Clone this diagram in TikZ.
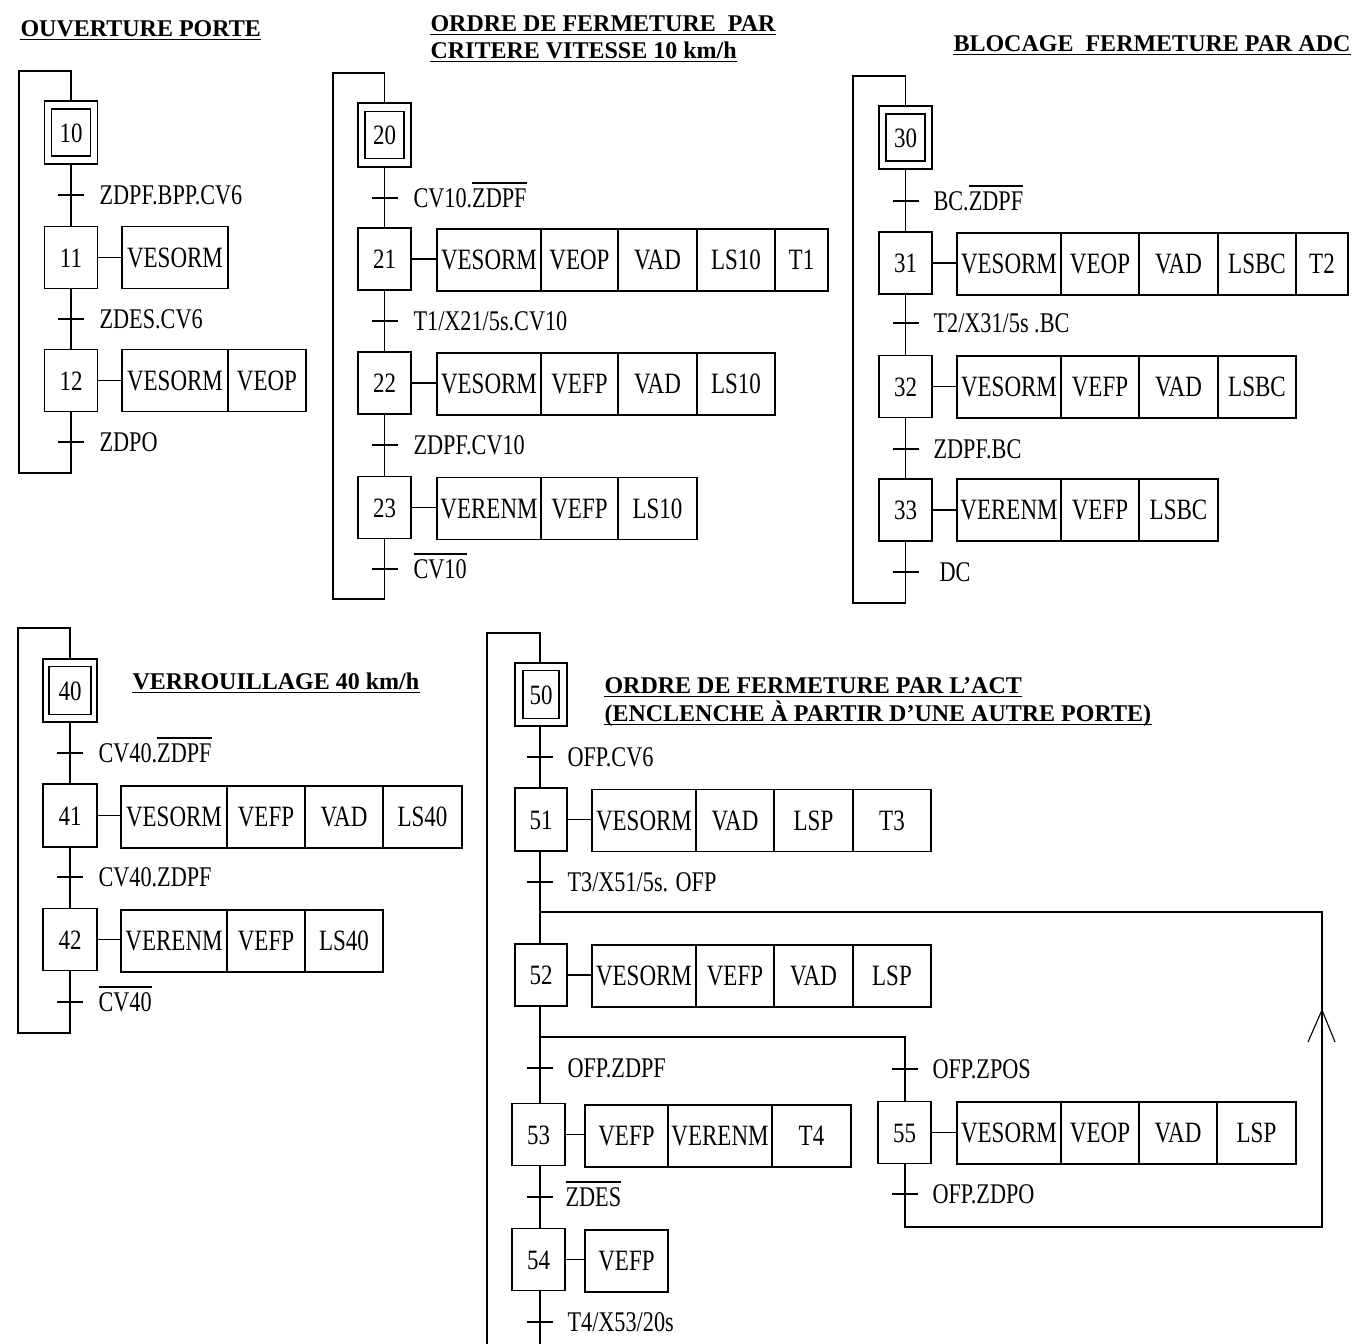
\documentclass[tikz,border=0pt]{standalone}
\usepackage{fontspec}
\setmainfont{Liberation Serif}
\newfontfamily\condf[FakeStretch=0.78]{Liberation Serif}
\newfontfamily\stepf[FakeStretch=0.82]{Liberation Serif}
\newcommand\lblfont{\condf\fontsize{28.5}{30}\selectfont}
\newcommand\actfont{\condf\fontsize{29.5}{31}\selectfont}
\newcommand\stepfont{\stepf\fontsize{28}{30}\selectfont}
\newcommand\ttlfont{\bfseries\fontsize{24}{26}\selectfont}
\newcommand\ovl[1]{\setbox0\hbox{#1}\rlap{\rule[\dimexpr19pt+5pt\relax]{\wd0}{1.2pt}}\box0}
\newcommand\act[5]{\node[act, minimum width={#3-#2}] (#1) at ({(#2+#3)/2},#4) {#5};}
\newcommand\trans[5]{\coordinate (#1) at (#2,#3);
  \draw ([xshift=-13pt]#1) -- ([xshift=13pt]#1);
  \node[lbl] (#1l) at (#4,#3) {#5};}
\tikzset{
  stepbox/.style={draw, minimum width=53pt, minimum height=62pt, inner sep=0pt, font=\stepfont, text height=19pt, text depth=0pt},
  initout/.style={draw, minimum width=53pt, minimum height=63pt, inner sep=0pt},
  initin/.style={stepbox, minimum width=39pt, minimum height=47pt},
  act/.style={draw, minimum height=62pt, inner sep=0pt, font=\actfont, text height=19.5pt, text depth=0pt},
  lbl/.style={anchor=west, inner sep=0pt, font=\lblfont, text height=19pt, text depth=0pt},
  ttl/.style={anchor=west, inner sep=0pt, font=\ttlfont, text height=16pt, text depth=0pt},
  uline/.style={line width=1.5pt}
}
\begin{document}
\begin{tikzpicture}[x=1pt, y=-1pt, line width=1.1pt]
\path[use as bounding box] (0,0) rectangle (1355,1344);

% ---------------- Titles
\node[ttl] (T1) at (20,28) {OUVERTURE PORTE};
\node[ttl] (T2a) at (430,23) {ORDRE DE FERMETURE~ PAR};
\node[ttl] (T2b) at (430,50) {CRITERE VITESSE 10 km/h};
\node[ttl] (T3) at (953,43) {BLOCAGE~ FERMETURE PAR ADC};
\node[ttl] (T4) at (132,681) {VERROUILLAGE 40 km/h};
\node[ttl] (T5a) at (604,685) {ORDRE DE FERMETURE PAR L’ACT};
\node[ttl] (T5b) at (604,713) {(ENCLENCHE À PARTIR D’UNE AUTRE PORTE)};
\foreach \t in {T1,T2a,T2b,T3,T4,T5a,T5b}
  \draw[uline] ([yshift=-3pt]\t.south west) -- ([yshift=-3pt]\t.south east);

% ---------------- Grafcet 1
\node[initout] (s10) at (71,132.5) {};
\node[initin] (s10i) at (s10) {10};
\trans{t10}{71}{195}{99}{ZDPF.BPP.CV6}
\node[stepbox] (s11) at (71,257.5) {11};
\act{a11a}{122}{228}{257.5}{VESORM}
\trans{t11}{71}{319}{99}{ZDES.CV6}
\node[stepbox] (s12) at (71,380.5) {12};
\act{a12a}{122}{228}{380.5}{VESORM}
\act{a12b}{228}{306}{380.5}{VEOP}
\trans{t12}{71}{442}{99}{ZDPO}
\coordinate (c1a) at (71,473); \coordinate (c1b) at (19,473);
\coordinate (c1c) at (19,71); \coordinate (c1d) at (71,71);
\draw (s10.south) -- (s11.north) (s11.south) -- (s12.north);
\draw (s11.east) -- (a11a.west) (s12.east) -- (a12a.west);
\draw (s12.south) -- (c1a) -- (c1b) -- (c1c) -- (c1d) -- (s10.north);

% ---------------- Grafcet 2
\node[initout, minimum height=64pt] (s20) at (384.5,135) {};
\node[initin] (s20i) at (s20) {20};
\trans{t20}{384.5}{198}{413}{CV10.\ovl{ZDPF}}
\node[stepbox] (s21) at (384.5,259) {21};
\act{a21a}{437}{541}{260}{VESORM}
\act{a21b}{541}{618}{260}{VEOP}
\act{a21c}{618}{697}{260}{VAD}
\act{a21d}{697}{775}{260}{LS10}
\act{a21e}{775}{828}{260}{T1}
\trans{t21}{384.5}{321}{413}{T1/X21/5s.CV10}
\node[stepbox] (s22) at (384.5,383) {22};
\act{a22a}{437}{541}{384}{VESORM}
\act{a22b}{541}{618}{384}{VEFP}
\act{a22c}{618}{697}{384}{VAD}
\act{a22d}{697}{775}{384}{LS10}
\trans{t22}{384.5}{445}{413}{ZDPF.CV10}
\node[stepbox] (s23) at (384.5,507.5) {23};
\act{a23a}{437}{541}{508.5}{VERENM}
\act{a23b}{541}{618}{508.5}{VEFP}
\act{a23c}{618}{697}{508.5}{LS10}
\trans{t23}{384.5}{569}{413}{\ovl{CV10}}
\coordinate (c2a) at (384.5,599); \coordinate (c2b) at (333,599);
\coordinate (c2c) at (333,73); \coordinate (c2d) at (384.5,73);
\draw (s20.south) -- (s21.north) (s21.south) -- (s22.north) (s22.south) -- (s23.north);
\draw (s21.east) -- (s21.east -| a21a.west) (s22.east) -- (s22.east -| a22a.west) (s23.east) -- (s23.east -| a23a.west);
\draw (s23.south) -- (c2a) -- (c2b) -- (c2c) -- (c2d) -- (s20.north);

% ---------------- Grafcet 3
\node[initout] (s30) at (905.5,137.5) {};
\node[initin] (s30i) at (s30) {30};
\trans{t30}{905.5}{201}{933}{BC.\ovl{ZDPF}}
\node[stepbox] (s31) at (905.5,263) {31};
\act{a31a}{957}{1061}{264}{VESORM}
\act{a31b}{1061}{1139}{264}{VEOP}
\act{a31c}{1139}{1218}{264}{VAD}
\act{a31d}{1218}{1296}{264}{LSBC}
\act{a31e}{1296}{1348}{264}{T2}
\trans{t31}{905.5}{323}{933}{T2/X31/5s .BC}
\node[stepbox] (s32) at (905.5,386.5) {32};
\act{a32a}{957}{1061}{387}{VESORM}
\act{a32b}{1061}{1139}{387}{VEFP}
\act{a32c}{1139}{1218}{387}{VAD}
\act{a32d}{1218}{1296}{387}{LSBC}
\trans{t32}{905.5}{449}{933}{ZDPF.BC}
\node[stepbox] (s33) at (905.5,510) {33};
\act{a33a}{957}{1061}{510}{VERENM}
\act{a33b}{1061}{1139}{510}{VEFP}
\act{a33c}{1139}{1218}{510}{LSBC}
\trans{t33}{905.5}{572}{939}{DC}
\coordinate (c3a) at (905.5,603); \coordinate (c3b) at (853,603);
\coordinate (c3c) at (853,76); \coordinate (c3d) at (905.5,76);
\draw (s30.south) -- (s31.north) (s31.south) -- (s32.north) (s32.south) -- (s33.north);
\draw (s31.east) -- (s31.east -| a31a.west) (s32.east) -- (s32.east -| a32a.west) (s33.east) -- (s33.east -| a33a.west);
\draw (s33.south) -- (c3a) -- (c3b) -- (c3c) -- (c3d) -- (s30.north);

% ---------------- Grafcet 4
\node[initout, minimum width=54pt] (s40) at (70,690.5) {};
\node[initin, minimum width=42pt, minimum height=48pt] (s40i) at (s40) {40};
\trans{t40}{70}{753}{98}{CV40.\ovl{ZDPF}}
\node[stepbox, minimum width=54pt, minimum height=63pt] (s41) at (70,815.5) {41};
\act{a41a}{121}{227}{817}{VESORM}
\act{a41b}{227}{305}{817}{VEFP}
\act{a41c}{305}{383}{817}{VAD}
\act{a41d}{383}{462}{817}{LS40}
\trans{t41}{70}{877}{98}{CV40.ZDPF}
\node[stepbox, minimum width=54pt] (s42) at (70,939.5) {42};
\act{a42a}{121}{227}{941}{VERENM}
\act{a42b}{227}{305}{941}{VEFP}
\act{a42c}{305}{383}{941}{LS40}
\trans{t42}{70}{1002}{98}{\ovl{CV40}}
\coordinate (c4a) at (70,1033); \coordinate (c4b) at (18,1033);
\coordinate (c4c) at (18,628); \coordinate (c4d) at (70,628);
\draw (s40.south) -- (s41.north) (s41.south) -- (s42.north);
\draw (s41.east) -- (s41.east -| a41a.west) (s42.east) -- (s42.east -| a42a.west);
\draw (s42.south) -- (c4a) -- (c4b) -- (c4c) -- (c4d) -- (s40.north);

% ---------------- Grafcet 5
\node[initout, minimum width=52pt] (s50) at (541,694.5) {};
\node[initin, minimum width=36pt, minimum height=48pt] (s50i) at (s50) {50};
\trans{t50}{540}{757}{567}{OFP.CV6}
\node[stepbox, minimum width=52pt, minimum height=63pt] (s51) at (541,819.5) {51};
\act{a51a}{592}{696}{820.5}{VESORM}
\act{a51b}{696}{774}{820.5}{VAD}
\act{a51c}{774}{853}{820.5}{LSP}
\act{a51d}{853}{931}{820.5}{T3}
\trans{t51}{540}{882}{567}{T3/X51/5s. OFP}
\coordinate (j52) at (540,912);
\node[stepbox, minimum width=52pt] (s52) at (541,975) {52};
\act{a52a}{592}{696}{976}{VESORM}
\act{a52b}{696}{774}{976}{VEFP}
\act{a52c}{774}{853}{976}{VAD}
\act{a52d}{853}{931}{976}{LSP}
\coordinate (d52) at (540,1037);
\coordinate (d55) at (905,1037);
\trans{t52a}{540}{1068}{567}{OFP.ZDPF}
\node[stepbox] (s53) at (538.5,1134.5) {53};
\act{a53a}{585}{668}{1136}{VEFP}
\act{a53b}{668}{772}{1136}{VERENM}
\act{a53c}{772}{851}{1136}{T4}
\trans{t53}{540}{1197}{565}{\ovl{ZDES}}
\node[stepbox] (s54) at (538.5,1259.5) {54};
\act{a54a}{585}{668}{1261}{VEFP}
\trans{t54}{540}{1322}{567}{T4/X53/20s}
\coordinate (e54) at (540,1344);
\trans{t52b}{905}{1069}{932}{OFP.ZPOS}
\node[stepbox] (s55) at (904.5,1132.5) {55};
\act{a55a}{957}{1061}{1133}{VESORM}
\act{a55b}{1061}{1139}{1133}{VEOP}
\act{a55c}{1139}{1217}{1133}{VAD}
\act{a55d}{1217}{1296}{1133}{LSP}
\trans{t55}{905}{1194}{932}{OFP.ZDPO}
\coordinate (r1) at (905,1227); \coordinate (r2) at (1322,1227);
\coordinate (r3) at (1322,912);
\coordinate (arr) at (1322,1010);
\coordinate (c5a) at (487,1344); \coordinate (c5b) at (487,633);
\coordinate (c5c) at (540,633);
\draw (s50.south -| j52) -- (s51.north -| j52);
\draw (s51.south -| j52) -- (s52.north -| j52);
\draw (s52.south -| j52) -- (d52) -- (s53.north -| j52);
\draw (d52) -- (d55) -- (s55.north -| d55);
\draw (s53.south -| j52) -- (s54.north -| j52) (s54.south -| j52) -- (e54);
\draw (s55.south -| d55) -- (r1) -- (r2) -- (r3) -- (j52);
\draw ([xshift=-14pt,yshift=-32pt]arr) -- (arr) -- ([xshift=13pt,yshift=-32pt]arr);
\draw (c5a) -- (c5b) -- (c5c) -- (s50.north -| c5c);
\draw (s51.east) -- (s51.east -| a51a.west) (s52.east) -- (s52.east -| a52a.west);
\draw (s53.east) -- (s53.east -| a53a.west) (s54.east) -- (s54.east -| a54a.west);
\draw (s55.east) -- (s55.east -| a55a.west);
\end{tikzpicture}
\end{document}
